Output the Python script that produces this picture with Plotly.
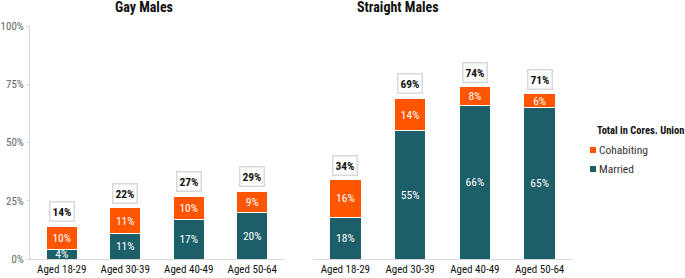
import plotly.graph_objects as go

categories = ["Aged 18-29", "Aged 30-39", "Aged 40-49", "Aged 50-64"]
gay_married = [4, 11, 17, 20]
gay_cohab = [10, 11, 10, 9]
gay_total = [14, 22, 27, 29]
straight_married = [18, 55, 66, 65]
straight_cohab = [16, 14, 8, 6]
straight_total = [34, 69, 74, 71]
y_ticks = [0, 25, 50, 75, 100]
legend_title = "Total in Cores. Union"
legend_items = ["Cohabiting", "Married"]

ORANGE = "#FF5500"
TEAL = "#1D5F69"
FONT = "Roboto Condensed, Liberation Sans, sans-serif"
W, H = 685, 278

fig = go.Figure()

def add_bars(married, cohab, xa, ya):
    for vals, name, col in [(married, "Married", TEAL), (cohab, "Cohabiting", ORANGE)]:
        fig.add_trace(go.Bar(x=categories, y=vals, name=name,
                             marker=dict(color=col, line=dict(color="white", width=1)),
                             text=[f"{v}%" for v in vals], textposition="inside", insidetextanchor="middle",
                             textangle=0, textfont=dict(color="white", size=11.5, family=FONT),
                             showlegend=False, xaxis=xa, yaxis=ya, cliponaxis=False))

add_bars(gay_married, gay_cohab, "x", "y")
add_bars(straight_married, straight_cohab, "x2", "y2")

def total_annots(totals, xref, yref):
    for c, t in zip(categories, totals):
        fig.add_annotation(x=c, y=t, xref=xref, yref=yref, text=f"<b>{t}%</b>", showarrow=False,
                           yanchor="bottom", yshift=4, bgcolor="white", bordercolor="#d9d9d9",
                           borderwidth=1.5, borderpad=2, font=dict(size=11.5, color="#111", family=FONT))

total_annots(gay_total, "x", "y")
total_annots(straight_total, "x2", "y2")

fig.add_annotation(x=144 / W, y=1 - 7 / H, xref="paper", yref="paper", text="<b>Gay Males</b>",
                   showarrow=False, xanchor="center", yanchor="middle", font=dict(size=14, color="#111", family=FONT))
fig.add_annotation(x=398 / W, y=1 - 7 / H, xref="paper", yref="paper", text="<b>Straight Males</b>",
                   showarrow=False, xanchor="center", yanchor="middle", font=dict(size=14, color="#111", family=FONT))

# manual legend
fig.add_annotation(x=595 / W, y=1 - 130 / H, xref="paper", yref="paper", text=f"<b>{legend_title}</b>",
                   showarrow=False, xanchor="left", yanchor="middle", font=dict(size=10.5, color="#111", family=FONT))
for i, (name, col) in enumerate(zip(legend_items, [ORANGE, TEAL])):
    yc = 150 + i * 19
    fig.add_shape(type="rect", xref="paper", yref="paper", x0=590 / W, x1=596 / W,
                  y0=1 - (yc + 3) / H, y1=1 - (yc - 3) / H, fillcolor=col, line=dict(width=0))
    fig.add_annotation(x=597 / W, y=1 - yc / H, xref="paper", yref="paper", text=name, showarrow=False,
                       xanchor="left", yanchor="middle", font=dict(size=11.5, color="#333", family=FONT))

ydom = [(H - 259) / H, (H - 26) / H]
axis_x = dict(showgrid=False, showline=True, linecolor="#d9d9d9", linewidth=1, ticks="",
              tickfont=dict(size=11, color="#111", family=FONT), fixedrange=True,
              automargin=False, tickangle=0)

fig.update_layout(
    width=W, height=H, margin=dict(l=0, r=0, t=0, b=0),
    paper_bgcolor="white", plot_bgcolor="white",
    barmode="stack", bargap=0.51,
    font=dict(family=FONT), showlegend=False,
    uniformtext=dict(minsize=11.5, mode="show"),
    xaxis=dict(domain=[30 / W, 284 / W], anchor="y", **axis_x),
    xaxis2=dict(domain=[313 / W, 572 / W], anchor="y2", **axis_x),
    yaxis=dict(domain=ydom, range=[0, 100], tickvals=y_ticks, ticktext=[f"{v}%" for v in y_ticks],
               showgrid=False, zeroline=False, showline=True, linecolor="#d9d9d9", linewidth=1,
               ticks="outside", ticklen=3, tickcolor="#d9d9d9", automargin=False,
               tickfont=dict(size=11, color="#666", family=FONT), anchor="x"),
    yaxis2=dict(domain=ydom, range=[0, 100], showgrid=False, zeroline=False, showline=False,
                showticklabels=False, anchor="x2", automargin=False),
)

fig.write_html("out.html", config={"displayModeBar": False},
               post_script="document.body.style.margin='0';document.body.style.overflow='hidden';")
